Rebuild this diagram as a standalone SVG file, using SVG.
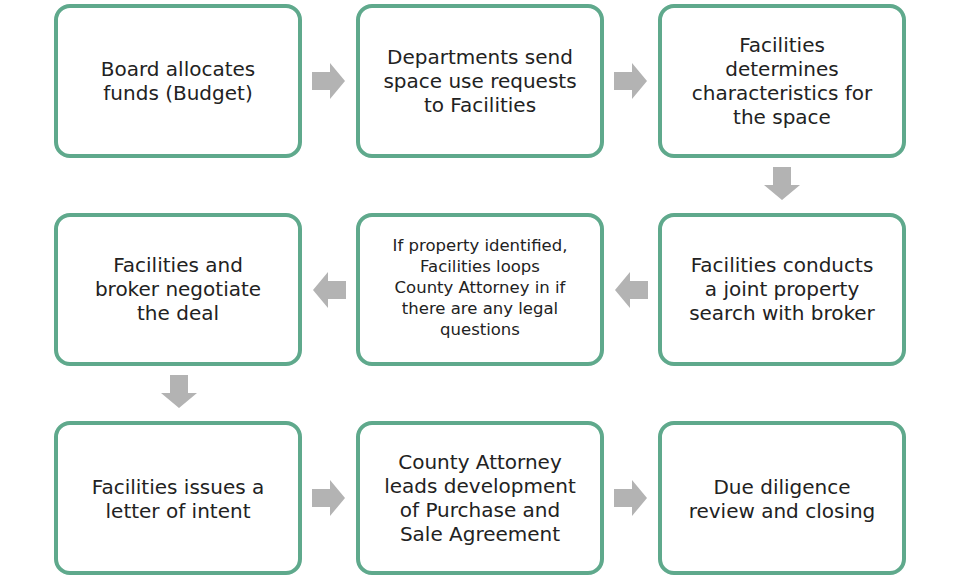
<svg xmlns="http://www.w3.org/2000/svg" width="960" height="582" viewBox="0 0 960 582">
<style>
.b{fill:#fff;stroke:#5fa98c;stroke-width:4}
.t{font-family:"DejaVu Sans",Verdana,sans-serif;font-size:20px;fill:#222;text-anchor:middle}
.s{font-size:16.5px}
.a{fill:#b3b3b3}
</style>
<defs>
<path id="ar" d="M0,-9 H18 V-18 L33,0 L18,18 V9 H0 Z"/>
</defs>
<rect width="960" height="582" fill="#fff"/>
<g id="n1"><rect class="b" x="56" y="6" width="244" height="150" rx="14"/><text class="t" x="178" y="76">Board allocates</text><text class="t" x="178" y="100">funds (Budget)</text></g>
<g id="n2"><rect class="b" x="358" y="6" width="244" height="150" rx="14"/><text class="t" x="480" y="64">Departments send</text><text class="t" x="480" y="88">space use requests</text><text class="t" x="480" y="112">to Facilities</text></g>
<g id="n3"><rect class="b" x="660" y="6" width="244" height="150" rx="14"/><text class="t" x="782" y="52">Facilities</text><text class="t" x="782" y="76">determines</text><text class="t" x="782" y="100">characteristics for</text><text class="t" x="782" y="124">the space</text></g>
<g id="n4"><rect class="b" x="660" y="215" width="244" height="149" rx="14"/><text class="t" x="782" y="272">Facilities conducts</text><text class="t" x="782" y="296">a joint property</text><text class="t" x="782" y="320">search with broker</text></g>
<g id="n5"><rect class="b" x="358" y="215" width="244" height="149" rx="14"/><text class="t s" x="480" y="251">If property identified,</text><text class="t s" x="480" y="272">Facilities loops</text><text class="t s" x="480" y="293">County Attorney in if</text><text class="t s" x="480" y="314">there are any legal</text><text class="t s" x="480" y="335">questions</text></g>
<g id="n6"><rect class="b" x="56" y="215" width="244" height="149" rx="14"/><text class="t" x="178" y="272">Facilities and</text><text class="t" x="178" y="296">broker negotiate</text><text class="t" x="178" y="320">the deal</text></g>
<g id="n7"><rect class="b" x="56" y="423" width="244" height="150" rx="14"/><text class="t" x="178" y="494">Facilities issues a</text><text class="t" x="178" y="518">letter of intent</text></g>
<g id="n8"><rect class="b" x="358" y="423" width="244" height="150" rx="14"/><text class="t" x="480" y="469">County Attorney</text><text class="t" x="480" y="493">leads development</text><text class="t" x="480" y="517">of Purchase and</text><text class="t" x="480" y="541">Sale Agreement</text></g>
<g id="n9"><rect class="b" x="660" y="423" width="244" height="150" rx="14"/><text class="t" x="782" y="494">Due diligence</text><text class="t" x="782" y="518">review and closing</text></g>
<g id="connectors" class="a">
<use href="#ar" transform="translate(312,81)"/>
<use href="#ar" transform="translate(614,81)"/>
<use href="#ar" transform="translate(782,167) rotate(90)"/>
<use href="#ar" transform="translate(648,290) rotate(180)"/>
<use href="#ar" transform="translate(346,290) rotate(180)"/>
<use href="#ar" transform="translate(179,375) rotate(90)"/>
<use href="#ar" transform="translate(312,498)"/>
<use href="#ar" transform="translate(614,498)"/>
</g>
</svg>
